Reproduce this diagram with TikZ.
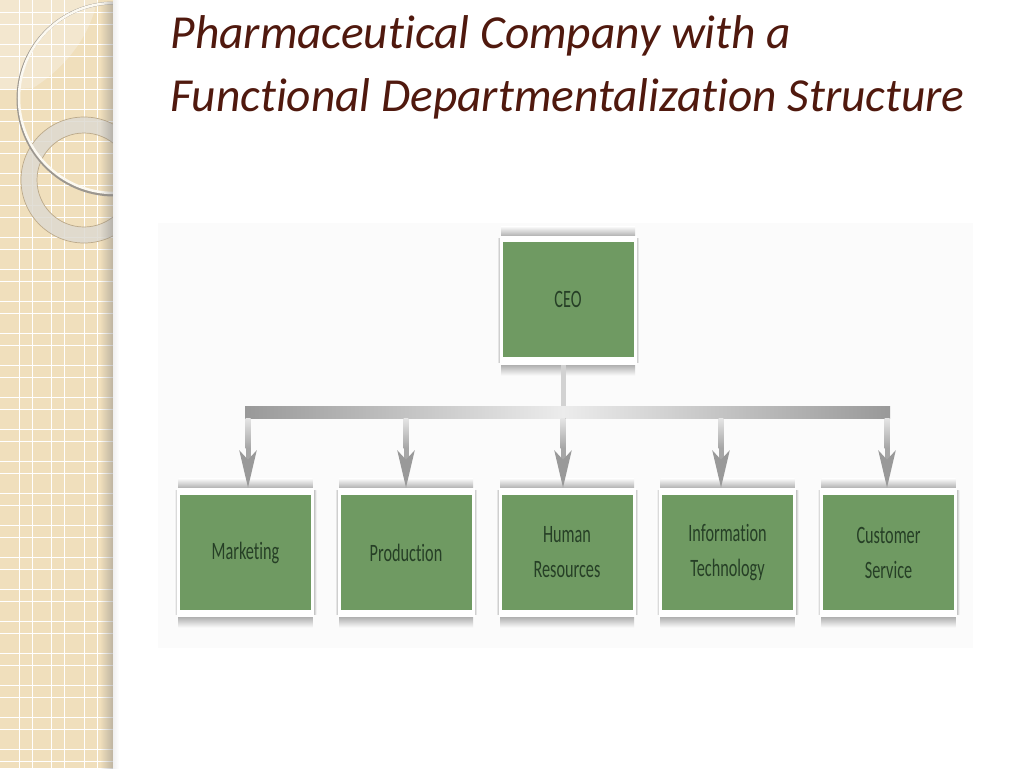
\documentclass[tikz,border=0pt]{standalone}
\usepackage{fontspec}
\setmainfont{Carlito}[Ligatures=NoCommon]
\newfontfamily\boxfont[FakeStretch=0.65,Ligatures=NoCommon]{Carlito}
\usetikzlibrary{positioning,calc,arrows.meta,fadings}
\definecolor{sidebar}{HTML}{F0DFBC}
\definecolor{sidebarlight}{HTML}{F3E7CF}
\definecolor{titlebrown}{HTML}{50190E}
\definecolor{boxgreen}{HTML}{6F9A62}
\definecolor{boxtext}{HTML}{263F26}
\definecolor{panel}{HTML}{FBFBFB}
\definecolor{ringgrey}{HTML}{DEDAD0}
\definecolor{ringedge}{HTML}{BBA98A}
\tikzset{
  back box/.style={fill=white, minimum width=137pt, minimum height=129pt, inner sep=0pt},
  unit box/.style={fill=boxgreen, minimum width=131pt, minimum height=115pt,
    inner sep=0pt, align=center, text=boxtext, font=\boxfont\fontsize{25}{35}\selectfont},
  link/.style={line width=5pt, draw=gray!70, -{Stealth[length=37pt,width=17pt,inset=9pt,color=gray!80]}},
  stem/.style={line width=5pt, draw=gray!35},
  title line/.style={anchor=west, text=titlebrown, font=\fontsize{47.4}{50}\selectfont\itshape},
}
\begin{document}
\begin{tikzpicture}[x=1pt, y=-1pt, >=stealth]
\useasboundingbox (0,0) rectangle (1024,768);
\fill[white] (0,0) rectangle (1024,768);

% side strip
\fill[sidebar] (0,0) rectangle (113,768);
\fill[sidebarlight] (0,0) -- (97,0) .. controls (92,30) and (70,65) .. (33,88) -- (0,90) -- cycle;
\foreach \k in {0,1,2,3}
  \draw[white, line width=1pt] (19+32.5*\k,0) -- (19+32.5*\k,768) (32+32.5*\k,0) -- (32+32.5*\k,768);
\foreach \k in {0,...,23}
  \draw[white, line width=1pt] (0,13+32*\k) -- (113,13+32*\k) (0,25+32*\k) -- (113,25+32*\k);
\begin{scope}
  \clip (0,0) rectangle (113,768);
  \draw[ringgrey, opacity=.85, line width=16pt] (84,180) circle (55);
  \draw[ringedge, line width=.7pt] (84,180) circle (63) (84,180) circle (47);
  \draw[gray!75!sidebar, line width=3pt] (114,99) circle (96);
  \draw[white!80!sidebar, line width=2.5pt] (114,98) circle (95);
\end{scope}
\fill[gray, opacity=.45, path fading=west] (100,0) rectangle (113,768);
\shade[left color=gray!12, right color=white] (113,0) rectangle (119,768);

% title
\node[title line] (title-1) at (167,36) {Pharmaceutical Company with a};
\node[title line] (title-2) at (167,99) {Functional Departmentalization Structure};

% picture panel
\fill[panel] (158,223) rectangle (973,648);

% soft edges round the boxes
\foreach \m/\c in {245.5/552.5,406/552.5,567/552.5,727.5/552.5,888.5/552.5,568/300.5} {
  \shade[top color=panel, bottom color=gray!65] (\m-67,\c-74) rectangle (\m+67,\c-64);
  \shade[top color=gray!65, bottom color=panel] (\m-67,\c+64) rectangle (\m+67,\c+75);
  \shade[left color=panel, right color=gray!55] (\m-71,\c-62) rectangle (\m-68,\c+62);
  \shade[left color=gray!55, right color=panel] (\m+68,\c-62) rectangle (\m+71,\c+62);
}

\foreach \m/\l [count=\y] in {245.5/Marketing,406/Production,567/Human\\Resources,727.5/Information\\Technology,888.5/Customer\\Service} {
  \node[back box] (back-\y) at (\m,552.5) {};
  \node[unit box] (unit-\y) at (\m,552.5) {\l};
}
\node[back box] (back-ceo) at (568,300.5) {};
\node[unit box] (ceo) at (568,299.5) {CEO};

% bar
\coordinate (bar) at (563,406);
\draw[stem] (back-ceo.south -| bar) -- (bar);
\shade[left color=gray!80, right color=gray!15] (245,406) rectangle (563,418);
\shade[left color=gray!15, right color=gray!80] (563,406) rectangle (890,418);

\foreach \x [count=\y] in {248,406,563,721,887} {
  \coordinate (drop-\y) at (\x,418);
  \draw[link] (drop-\y) -- (drop-\y |- back-\y.north);
  \shade[top color=gray!20, bottom color=gray!70] ($(drop-\y)+(-2.5,0)$) rectangle ($(drop-\y)+(2.5,30)$);
}
\end{tikzpicture}
\end{document}
